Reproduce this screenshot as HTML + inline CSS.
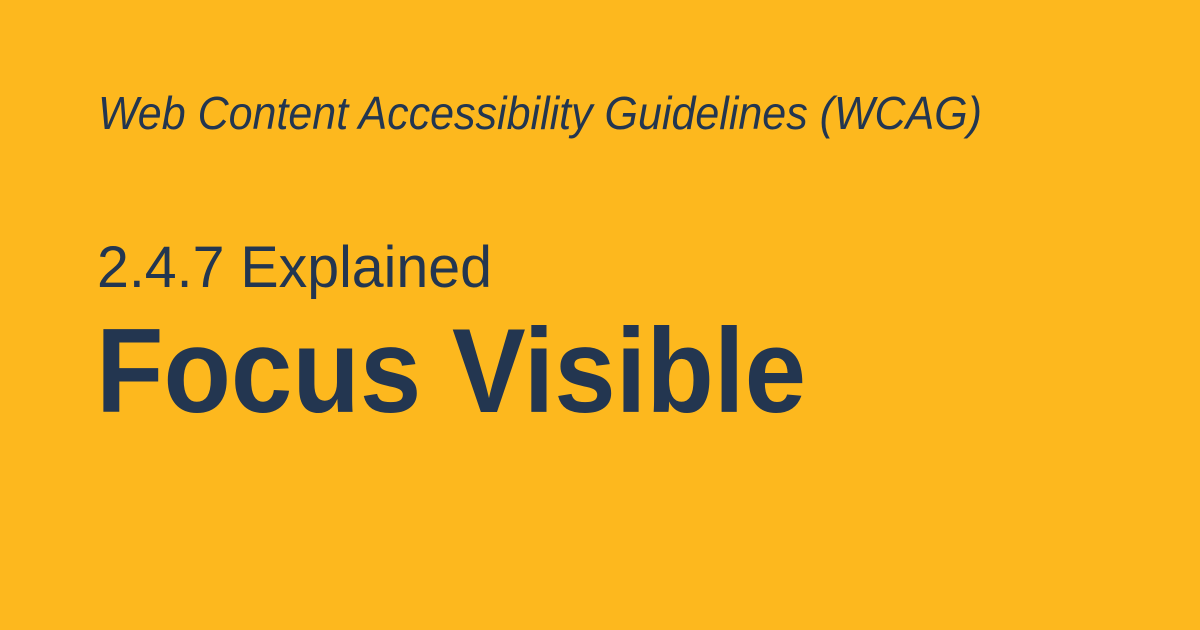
<!DOCTYPE html>
<html><head><meta charset="utf-8"><style>
html,body{margin:0;padding:0;}
body{width:1200px;height:630px;background:#FDB81E;overflow:hidden;}
svg{display:block;}
text{font-family:"Liberation Sans",Arial,sans-serif;fill:#233650;}
</style></head><body>
<svg width="1200" height="630">
<rect width="1200" height="630" fill="#FDB81E"/>
<text x="98" y="129" font-size="46" font-style="italic" textLength="884" lengthAdjust="spacingAndGlyphs">Web Content Accessibility Guidelines (WCAG)</text>
<text x="97" y="287" font-size="58" textLength="395" lengthAdjust="spacingAndGlyphs">2.4.7 Explained</text>
<text x="96" y="412" font-size="120" font-weight="bold" textLength="710" lengthAdjust="spacingAndGlyphs">Focus Visible</text>
</svg>
</body></html>
